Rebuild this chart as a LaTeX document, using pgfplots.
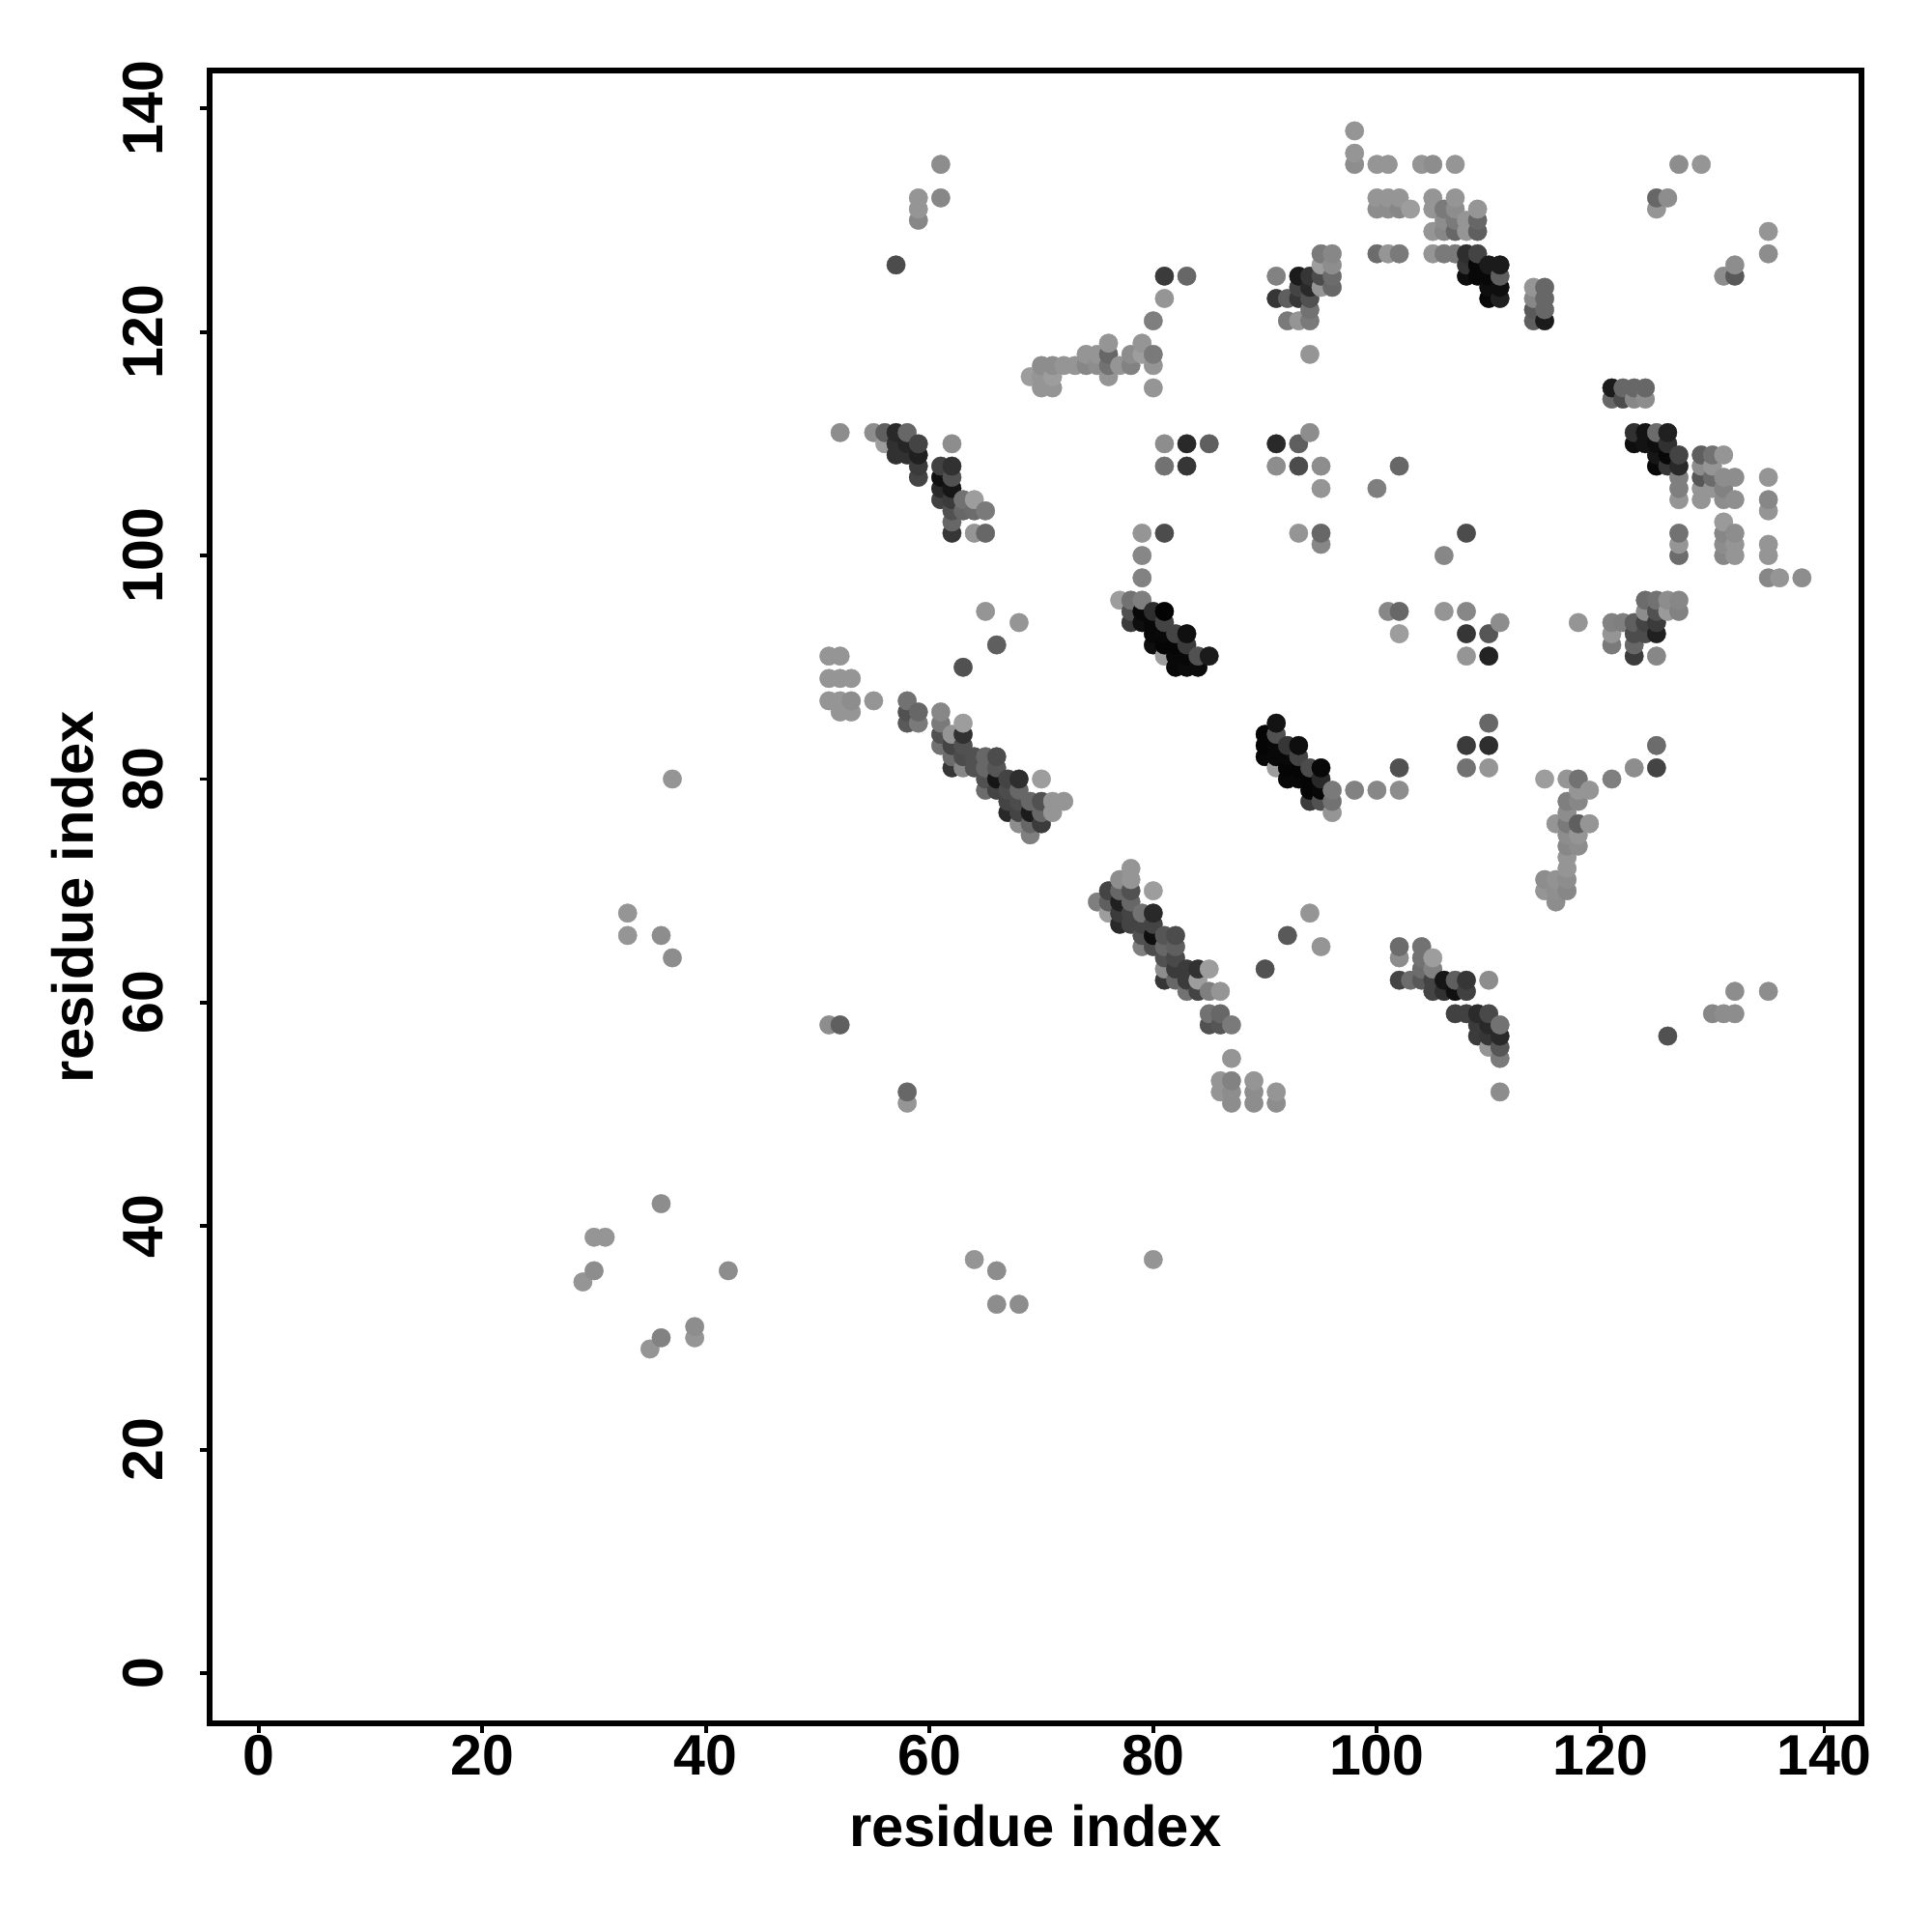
\documentclass[border=0pt]{standalone}
\usepackage{pgfplots}
\pgfplotsset{compat=1.18}
\usepackage{fontspec}
\setmainfont{Liberation Sans}
\begin{document}
\begin{tikzpicture}[x=1cm,y=1cm]
\useasboundingbox (-2.167,-2.16) rectangle (17.833,17.84);
\begin{axis}[
  at={(0cm,0cm)},anchor=south west,
  width=17.10cm,height=17.11cm,scale only axis,
  xmin=-4.4,xmax=143.3,ymin=-4.5,ymax=143.4,
  xtick={0,20,...,140},ytick={0,20,...,140},
  xtick pos=bottom,ytick pos=left,tick align=outside,
  major tick length=0.1cm,
  tick style={black,line width=1.1pt},
  axis line style={black,line width=1.8pt},
  /pgf/number format/assume math mode=true,
  tick label style={font=\fontsize{16.8}{20}\selectfont\bfseries},
  label style={font=\fontsize{17}{20}\selectfont\bfseries},
  xticklabel style={anchor=center,yshift=-0.23cm},
  yticklabel style={rotate=90,anchor=center,yshift=0.585cm},
  xlabel={residue index},ylabel={residue index},
  xlabel style={at={(axis description cs:0.5,0)},anchor=center,yshift=-1.06cm},
  ylabel style={at={(axis description cs:0,0.5)},anchor=center,rotate=0,yshift=1.42cm},
  colormap={bw}{gray(0cm)=(0); gray(1cm)=(1)},
  point meta min=0,point meta max=95,
  clip=false,
]
\addplot[scatter,only marks,mark=*,mark size=2.75pt,point meta=explicit,
  scatter/use mapped color={draw=mapped color,fill=mapped color},
  mark options={line width=0.1pt}]
 table[x=x,y=y,meta=g,row sep=\\]{
x y g\\
29 35 55\\
30 36 52\\ 30 39 55\\
31 39 55\\
33 66 55\\ 33 68 55\\
35 29 55\\
36 30 48\\ 36 42 52\\ 36 66 52\\
37 64 52\\ 37 80 55\\
39 30 55\\ 39 31 52\\
42 36 52\\
51 58 52\\ 51 87 55\\ 51 89 55\\ 51 91 55\\
52 58 35\\ 52 86 55\\ 52 87 55\\ 52 89 55\\ 52 91 55\\ 52 111 52\\
53 86 55\\ 53 87 52\\ 53 89 55\\
55 87 55\\ 55 111 52\\
56 110 58\\ 56 111 35\\
57 109 18\\ 57 110 18\\ 57 111 15\\ 57 126 28\\
58 51 55\\ 58 52 38\\ 58 85 33\\ 58 86 30\\ 58 87 42\\ 58 109 18\\ 58 110 14\\ 58 111 38\\
59 85 45\\ 59 86 38\\ 59 107 25\\ 59 108 22\\ 59 109 12\\ 59 110 25\\ 59 130 50\\ 59 131 55\\ 59 132 55\\
61 83 42\\ 61 84 30\\ 61 85 45\\ 61 86 50\\ 61 105 24\\ 61 106 15\\ 61 107 6\\ 61 108 24\\ 61 132 50\\ 61 135 52\\
62 81 20\\ 62 82 40\\ 62 83 25\\ 62 84 55\\ 62 102 20\\ 62 103 38\\ 62 104 30\\ 62 105 22\\ 62 106 8\\ 62 107 30\\ 62 108 18\\ 62 110 52\\
63 81 50\\ 63 82 28\\ 63 83 30\\ 63 84 18\\ 63 85 58\\ 63 90 30\\ 63 104 38\\ 63 105 42\\
64 37 55\\ 64 81 30\\ 64 82 30\\ 64 102 55\\ 64 104 40\\ 64 105 58\\
65 79 40\\ 65 80 30\\ 65 81 38\\ 65 82 38\\ 65 95 55\\ 65 102 38\\ 65 104 45\\
66 33 52\\ 66 36 52\\ 66 79 25\\ 66 80 8\\ 66 81 32\\ 66 82 28\\ 66 92 35\\
67 77 15\\ 67 78 25\\ 67 79 28\\ 67 80 25\\
68 33 52\\ 68 76 52\\ 68 77 25\\ 68 78 28\\ 68 79 38\\ 68 80 17\\ 68 94 55\\
69 75 47\\ 69 76 38\\ 69 77 10\\ 69 78 38\\ 69 116 58\\
70 76 22\\ 70 77 38\\ 70 78 30\\ 70 80 58\\ 70 115 55\\ 70 116 55\\ 70 117 52\\
71 77 55\\ 71 78 55\\ 71 115 55\\ 71 116 58\\ 71 117 52\\
72 78 55\\ 72 117 55\\
73 117 55\\
74 117 50\\ 74 118 55\\
75 69 47\\ 75 117 52\\ 75 118 55\\
76 68 58\\ 76 69 35\\ 76 70 25\\ 76 116 55\\ 76 117 42\\ 76 118 38\\ 76 119 55\\
77 67 15\\ 77 68 22\\ 77 69 12\\ 77 70 38\\ 77 71 52\\ 77 96 58\\ 77 117 55\\
78 67 25\\ 78 68 25\\ 78 69 38\\ 78 70 30\\ 78 71 55\\ 78 72 55\\ 78 94 22\\ 78 95 30\\ 78 96 42\\ 78 117 48\\ 78 118 52\\
79 65 47\\ 79 66 30\\ 79 67 25\\ 79 68 42\\ 79 94 5\\ 79 95 3\\ 79 96 47\\ 79 98 48\\ 79 100 50\\ 79 102 55\\ 79 118 58\\ 79 119 55\\
80 37 55\\ 80 65 28\\ 80 66 5\\ 80 67 25\\ 80 68 15\\ 80 70 58\\ 80 92 5\\ 80 93 3\\ 80 94 3\\ 80 95 17\\ 80 115 55\\ 80 117 55\\ 80 118 45\\ 80 121 47\\
81 62 20\\ 81 63 52\\ 81 64 30\\ 81 65 38\\ 81 66 32\\ 81 91 58\\ 81 92 2\\ 81 93 3\\ 81 94 25\\ 81 95 1\\ 81 102 28\\ 81 108 42\\ 81 110 52\\ 81 123 55\\ 81 125 22\\
82 62 38\\ 82 63 22\\ 82 64 27\\ 82 65 35\\ 82 66 28\\ 82 90 3\\ 82 91 3\\ 82 92 2\\ 82 93 25\\
83 61 42\\ 83 62 22\\ 83 63 22\\ 83 90 4\\ 83 91 3\\ 83 92 22\\ 83 93 6\\ 83 108 20\\ 83 110 15\\ 83 125 38\\
84 61 25\\ 84 62 58\\ 84 63 18\\ 84 90 4\\ 84 91 30\\
85 58 30\\ 85 59 42\\ 85 61 47\\ 85 63 58\\ 85 91 10\\ 85 110 35\\
86 52 55\\ 86 53 55\\ 86 58 32\\ 86 59 38\\ 86 61 55\\
87 51 52\\ 87 52 52\\ 87 53 48\\ 87 55 55\\ 87 58 45\\
89 51 52\\ 89 52 52\\ 89 53 55\\
90 63 30\\ 90 82 3\\ 90 83 2\\ 90 84 2\\
91 51 52\\ 91 52 55\\ 91 81 58\\ 91 82 3\\ 91 83 3\\ 91 84 30\\ 91 85 7\\ 91 108 52\\ 91 110 15\\ 91 123 20\\ 91 125 48\\
92 66 33\\ 92 80 3\\ 92 81 2\\ 92 82 3\\ 92 83 20\\ 92 121 45\\ 92 123 35\\
93 80 3\\ 93 81 2\\ 93 82 25\\ 93 83 5\\ 93 102 55\\ 93 108 28\\ 93 110 35\\ 93 121 55\\ 93 123 20\\ 93 124 25\\ 93 125 10\\
94 68 55\\ 94 78 22\\ 94 79 2\\ 94 80 2\\ 94 81 28\\ 94 111 52\\ 94 118 55\\ 94 121 45\\ 94 122 42\\ 94 123 30\\ 94 124 15\\ 94 125 20\\
95 65 55\\ 95 78 30\\ 95 79 3\\ 95 80 15\\ 95 81 3\\ 95 101 50\\ 95 102 38\\ 95 106 55\\ 95 108 52\\ 95 124 55\\ 95 125 28\\ 95 126 58\\ 95 127 45\\
96 77 55\\ 96 78 42\\ 96 79 45\\ 96 124 38\\ 96 125 40\\ 96 126 52\\ 96 127 50\\
98 79 48\\ 98 135 52\\ 98 136 55\\ 98 138 55\\
100 79 50\\ 100 106 47\\ 100 127 40\\ 100 131 52\\ 100 132 55\\ 100 135 55\\
101 95 50\\ 101 127 55\\ 101 131 52\\ 101 132 55\\ 101 135 55\\
102 62 25\\ 102 64 52\\ 102 65 40\\ 102 79 52\\ 102 81 30\\ 102 93 58\\ 102 95 38\\ 102 108 38\\ 102 127 45\\ 102 131 50\\ 102 132 55\\
103 62 40\\ 103 131 58\\
104 62 33\\ 104 63 40\\ 104 64 42\\ 104 65 42\\ 104 135 55\\
105 61 25\\ 105 62 25\\ 105 63 48\\ 105 64 58\\ 105 127 55\\ 105 129 55\\ 105 131 55\\ 105 132 55\\ 105 135 52\\
106 61 18\\ 106 62 8\\ 106 95 55\\ 106 100 50\\ 106 127 45\\ 106 129 50\\ 106 130 52\\ 106 131 45\\
107 59 24\\ 107 61 6\\ 107 62 35\\ 107 127 45\\ 107 129 38\\ 107 130 45\\ 107 131 52\\ 107 132 55\\ 107 135 55\\
108 59 24\\ 108 61 24\\ 108 62 20\\ 108 81 42\\ 108 83 22\\ 108 91 55\\ 108 93 20\\ 108 95 50\\ 108 102 28\\ 108 125 5\\ 108 126 20\\ 108 127 17\\ 108 129 55\\ 108 130 55\\
109 57 22\\ 109 58 22\\ 109 59 16\\ 109 125 3\\ 109 126 3\\ 109 127 25\\ 109 129 35\\ 109 130 38\\ 109 131 55\\
110 56 55\\ 110 57 20\\ 110 58 15\\ 110 59 27\\ 110 62 52\\ 110 81 55\\ 110 83 17\\ 110 85 38\\ 110 91 13\\ 110 93 32\\ 110 123 3\\ 110 124 5\\ 110 125 3\\ 110 126 10\\
111 52 52\\ 111 55 45\\ 111 56 32\\ 111 57 15\\ 111 58 42\\ 111 94 52\\ 111 123 12\\ 111 124 5\\ 111 125 35\\ 111 126 10\\
114 121 35\\ 114 122 33\\ 114 123 50\\ 114 124 55\\
115 70 55\\ 115 71 52\\ 115 80 58\\ 115 121 10\\ 115 122 38\\ 115 123 38\\ 115 124 38\\
116 69 52\\ 116 70 53\\ 116 71 54\\ 116 76 55\\
117 70 50\\ 117 71 52\\ 117 72 55\\ 117 73 55\\ 117 74 50\\ 117 75 52\\ 117 76 45\\ 117 77 52\\ 117 78 47\\ 117 80 55\\
118 74 52\\ 118 75 55\\ 118 76 35\\ 118 78 50\\ 118 79 55\\ 118 80 42\\ 118 94 55\\
119 76 55\\ 119 79 55\\
121 80 47\\ 121 92 45\\ 121 93 55\\ 121 94 48\\ 121 114 38\\ 121 115 10\\
122 94 47\\ 122 114 28\\ 122 115 38\\
123 81 52\\ 123 91 22\\ 123 92 38\\ 123 93 28\\ 123 94 35\\ 123 110 5\\ 123 111 18\\ 123 114 50\\ 123 115 38\\
124 93 28\\ 124 94 25\\ 124 95 52\\ 124 96 40\\ 124 110 7\\ 124 111 7\\ 124 114 52\\ 124 115 38\\
125 81 25\\ 125 83 40\\ 125 91 50\\ 125 93 12\\ 125 94 22\\ 125 95 30\\ 125 96 42\\ 125 108 3\\ 125 109 8\\ 125 110 5\\ 125 111 40\\ 125 131 55\\ 125 132 38\\
126 57 30\\ 126 95 57\\ 126 96 52\\ 126 108 20\\ 126 109 3\\ 126 110 18\\ 126 111 12\\ 126 132 52\\
127 95 48\\ 127 96 50\\ 127 100 40\\ 127 101 55\\ 127 102 42\\ 127 105 55\\ 127 106 47\\ 127 107 47\\ 127 108 15\\ 127 109 25\\ 127 135 52\\
129 105 55\\ 129 106 55\\ 129 107 32\\ 129 108 52\\ 129 109 35\\ 129 135 55\\
130 59 50\\ 130 106 55\\ 130 107 40\\ 130 108 55\\ 130 109 42\\
131 59 52\\ 131 100 50\\ 131 101 52\\ 131 102 50\\ 131 103 57\\ 131 105 52\\ 131 106 48\\ 131 107 52\\ 131 109 55\\ 131 125 52\\
132 59 52\\ 132 61 52\\ 132 100 55\\ 132 101 55\\ 132 102 52\\ 132 105 53\\ 132 107 52\\ 132 125 33\\ 132 126 52\\
135 61 52\\ 135 98 50\\ 135 100 55\\ 135 101 55\\ 135 104 55\\ 135 105 50\\ 135 107 55\\ 135 127 52\\ 135 129 55\\
136 98 55\\
138 98 52\\
};
\end{axis}
\end{tikzpicture}
\end{document}
